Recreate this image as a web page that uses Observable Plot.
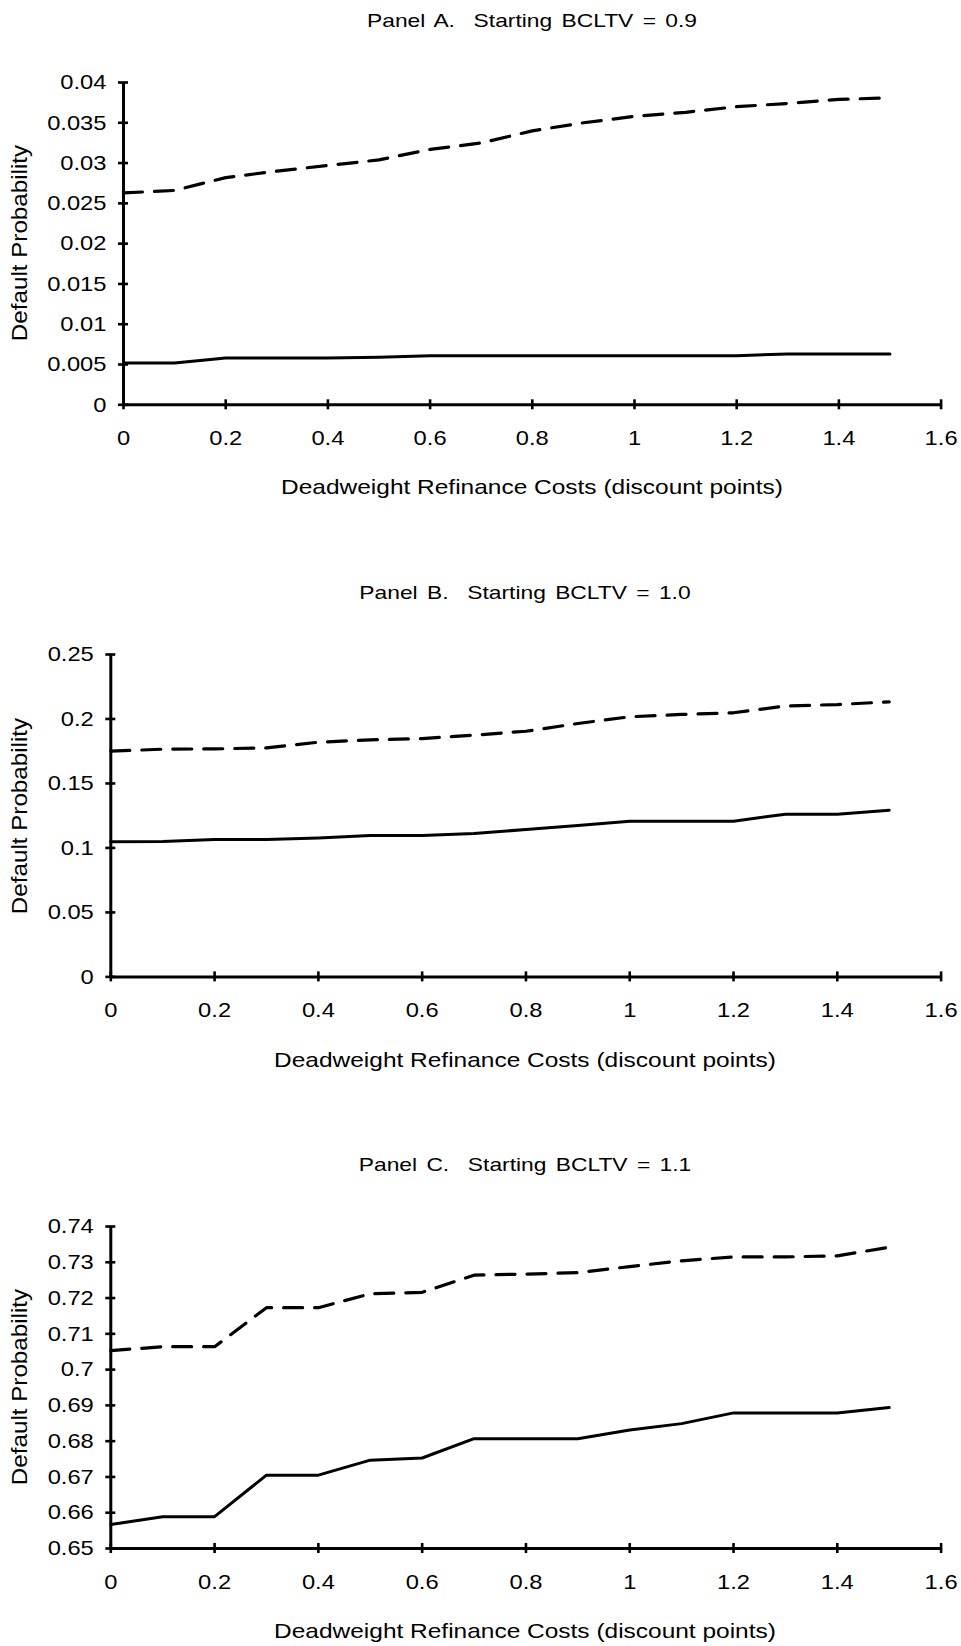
<!DOCTYPE html>
<html><head><meta charset="utf-8">
<script src="https://cdn.jsdelivr.net/npm/d3@7"></script>
<script src="https://cdn.jsdelivr.net/npm/@observablehq/plot@0.6"></script>
<style>
body{margin:0;background:#fff;}
#root{position:relative;width:961px;height:1646px;overflow:hidden;font-family:"Liberation Sans",Arial,sans-serif;color:#000;background:#fff;}
.lbl{position:absolute;white-space:pre;line-height:1;}
.panel{position:absolute;left:0;}
</style></head><body><div id="root"></div>
<script>
// ---- data ----
const xValues = [0,0.1,0.2,0.3,0.4,0.5,0.6,0.7,0.8,0.9,1.0,1.1,1.2,1.3,1.4,1.5];
const xTicks = [0,0.2,0.4,0.6,0.8,1,1.2,1.4,1.6];
const xLabel = "Deadweight Refinance Costs (discount points)";
const yLabel = "Default Probability";
const panelTitles = ["Panel A.  Starting BCLTV = 0.9","Panel B.  Starting BCLTV = 1.0","Panel C.  Starting BCLTV = 1.1"];

const solidA  = [0.0052,0.0052,0.0058,0.0058,0.0058,0.0059,0.0061,0.0061,0.0061,0.0061,0.0061,0.0061,0.0061,0.0063,0.0063,0.0063];
const dashedA = [0.0263,0.0266,0.0282,0.0290,0.0297,0.0304,0.0317,0.0325,0.0340,0.0350,0.0358,0.0363,0.0370,0.0374,0.0379,0.0381];
const yTicksA = [0,0.005,0.01,0.015,0.02,0.025,0.03,0.035,0.04];

const solidB  = [0.1047,0.1050,0.1065,0.1065,0.1078,0.1096,0.1096,0.1112,0.1143,0.1174,0.1207,0.1207,0.1207,0.1262,0.1262,0.1293];
const dashedB = [0.1750,0.1766,0.1768,0.1776,0.1820,0.1838,0.1848,0.1874,0.1905,0.1965,0.2017,0.2035,0.2048,0.2100,0.2112,0.2133];
const yTicksB = [0,0.05,0.1,0.15,0.2,0.25];

const solidC  = [0.6567,0.6589,0.6589,0.6705,0.6705,0.6747,0.6753,0.6807,0.6807,0.6807,0.6831,0.6849,0.6879,0.6879,0.6879,0.6894];
const dashedC = [0.7053,0.7064,0.7064,0.7173,0.7173,0.7212,0.7216,0.7264,0.7267,0.7271,0.7288,0.7304,0.7315,0.7315,0.7318,0.7342];
const yTicksC = [0.65,0.66,0.67,0.68,0.69,0.7,0.71,0.72,0.73,0.74];

// ---- layout ----
const root = document.getElementById("root");
const W = 961, RIGHT = 940.6, MT = 20, MB = 60;
const panels = [
  {title: panelTitles[0], solid: solidA, dashed: dashedA, ticks: yTicksA, domain: [0,0.04], left: 123,   top: 81.7,   h: 322.3},
  {title: panelTitles[1], solid: solidB, dashed: dashedB, ticks: yTicksB, domain: [0,0.25], left: 110.3, top: 654.3,  h: 322.4},
  {title: panelTitles[2], solid: solidC, dashed: dashedC, ticks: yTicksC, domain: [0.65,0.74], left: 110.3, top: 1226.3, h: 322}
];
const FONT = '"Liberation Sans", Arial, sans-serif';

function addLabel(text, x, y, size, extra) {
  const d = document.createElement("div");
  d.className = "lbl";
  d.textContent = text;
  d.style.left = x + "px";
  d.style.top = y + "px";
  d.style.fontSize = size + "px";
  d.style.transform = "translate(-50%,-50%) " + (extra.transform || "");
  if (extra.wordSpacing) d.style.wordSpacing = extra.wordSpacing + "px";
  root.appendChild(d);
}

panels.forEach(p => {
  const solidData = xValues.map((x, i) => ({x, y: p.solid[i]}));
  const dashedData = xValues.map((x, i) => ({x, y: p.dashed[i]}));
  const y0 = p.domain[0];
  const svg = Plot.plot({
    width: W, height: MT + p.h + MB,
    marginTop: MT, marginBottom: MB, marginLeft: p.left, marginRight: W - RIGHT,
    style: {fontFamily: FONT, fontSize: "21px", background: "white", overflow: "visible", color: "black"},
    x: {domain: [0, 1.6], axis: null},
    y: {domain: p.domain, axis: null},
    marks: [
      // axis lines
      Plot.ruleX([0], {strokeWidth: 3, stroke: "black"}),
      Plot.ruleY([y0], {strokeWidth: 3, stroke: "black"}),
      // y tick marks crossing the axis
      Plot.ruleY(p.ticks, {y: d => d, x1: 0, x2: 0, insetLeft: -5, insetRight: -5, strokeWidth: 2.6, stroke: "black"}),
      // x tick marks crossing the axis
      Plot.ruleX(xTicks, {x: d => d, y1: y0, y2: y0, insetTop: -5, insetBottom: -5, strokeWidth: 2.6, stroke: "black"}),
      // tick labels
      Plot.text(p.ticks, {y: d => d, text: d => String(d), frameAnchor: "left", textAnchor: "end", dx: -17, fontSize: 21, fill: "black"}),
      Plot.text(xTicks, {x: d => d, text: d => String(d), frameAnchor: "bottom", dy: 40, fontSize: 21, fill: "black"}),
      // series
      Plot.line(solidData, {x: "x", y: "y", stroke: "black", strokeWidth: 3}),
      Plot.line(dashedData, {x: "x", y: "y", stroke: "black", strokeWidth: 3.2, strokeDasharray: "19,12"})
    ]
  });
  const wrap = document.createElement("div");
  wrap.className = "panel";
  wrap.style.top = (p.top - MT) + "px";
  wrap.appendChild(svg);
  root.appendChild(wrap);
  // widen tick labels slightly along their reading direction
  svg.querySelectorAll("text").forEach(t => {
    const tr = t.getAttribute("transform") || "";
    t.setAttribute("transform", tr + " scale(1.13,1)");
  });
  const cx = (p.left + RIGHT) / 2;
  addLabel(p.title, cx, p.top - 62, 19, {transform: "scaleX(1.2)", wordSpacing: 2.5});
  addLabel(xLabel, cx, p.top + p.h + 82, 21, {transform: "scaleX(1.165)"});
  addLabel(yLabel, 20, p.top + p.h / 2, 22, {transform: "rotate(-90deg) scaleX(1.1)"});
});
</script>
</body></html>
